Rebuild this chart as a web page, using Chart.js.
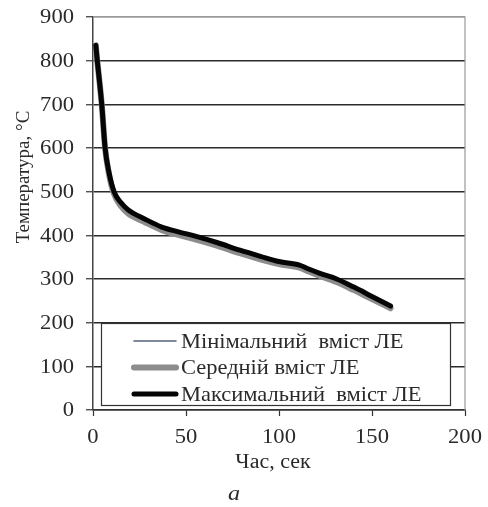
<!DOCTYPE html>
<html>
<head>
<meta charset="utf-8">
<script src="https://cdn.jsdelivr.net/npm/chart.js@4/dist/chart.umd.min.js"></script>
<style>
  html, body { margin: 0; padding: 0; background: #fff; }
  canvas { display: block; }
</style>
</head>
<body>
<canvas id="c" width="488" height="507"></canvas>
<script>
// Cooling curves: temperature vs time for three alloying-element contents
const timeSec = [1.5, 2.3, 4.7, 6.5, 8.5, 11.3, 15, 19, 28, 37, 46, 55, 67, 79, 90, 100, 111, 116, 122, 131, 140, 150, 160];
const tempMin = [833, 798, 698, 598, 543, 498, 472, 455, 434, 416, 405, 395, 380, 363, 349, 337, 329, 320, 310, 297, 279, 257, 236];
const tempMid = [835, 800, 700, 600, 542, 495, 467, 450, 430, 412, 401, 391, 376, 359, 345, 334, 326, 317, 307, 293, 275, 254, 233];
const tempMax = [835, 800, 700, 600, 546, 500, 475, 458, 437, 419, 408, 398, 383, 366, 352, 340, 332, 323, 313, 300, 282, 260, 238];

const seriesLabels = ['Мінімальний  вміст ЛЕ', 'Середній вміст ЛЕ', 'Максимальний  вміст ЛЕ'];
const xTicks = [0, 50, 100, 150, 200];
const yTicks = [0, 100, 200, 300, 400, 500, 600, 700, 800, 900];
const xTitle = 'Час, сек';
const yTitle = 'Температура, °С';
const panelLabel = 'a';

const SERIF = "'Liberation Serif', 'Times New Roman', serif";
const TEXT = '#2a2a2a';
const STRETCH = 1.13; // text is set slightly wide
Chart.defaults.font.family = SERIF;
Chart.defaults.color = TEXT;

const toPoints = (ys) => ys.map((y, i) => ({ x: timeSec[i], y }));

function wideText(ctx, text, x, y, sx, rot) {
  ctx.save();
  ctx.translate(x, y);
  if (rot) ctx.rotate(rot);
  ctx.scale(sx, 1);
  ctx.fillText(text, 0, 0);
  ctx.restore();
}

// Tick labels, legend box inside the plot, axis titles and panel letter
const annotations = {
  id: 'annotations',
  afterDatasetsDraw(chart) {
    const ctx = chart.ctx;
    const area = chart.chartArea;
    const xs = chart.scales.x, ys = chart.scales.y;
    ctx.save();

    // plot frame: light top/right edges
    ctx.strokeStyle = '#9a9a9a';
    ctx.lineWidth = 1.2;
    ctx.beginPath();
    ctx.moveTo(area.left, area.top);
    ctx.lineTo(area.right, area.top);
    ctx.lineTo(area.right, area.bottom);
    ctx.stroke();

    // tick labels
    ctx.fillStyle = TEXT;
    ctx.font = '20px ' + SERIF;
    ctx.textBaseline = 'middle';
    ctx.textAlign = 'right';
    ys.ticks.forEach(t => wideText(ctx, String(t.value), area.left - 19, ys.getPixelForValue(t.value) + 1, STRETCH));
    ctx.textAlign = 'center';
    xs.ticks.forEach(t => wideText(ctx, String(t.value), xs.getPixelForValue(t.value), area.bottom + 28, STRETCH));

    // legend
    const bx = 101, by = 323, bw = 349, bh = 82;
    ctx.fillStyle = '#fff';
    ctx.fillRect(bx, by, bw, bh);
    ctx.strokeStyle = '#333';
    ctx.lineWidth = 1.2;
    ctx.strokeRect(bx + 0.5, by + 0.5, bw, bh);
    const rows = [341, 367.5, 394];
    ctx.font = '21px ' + SERIF;
    ctx.textBaseline = 'middle';
    ctx.textAlign = 'left';
    chart.data.datasets.forEach((ds, i) => {
      const y = rows[i];
      ctx.strokeStyle = ds.borderColor;
      ctx.lineWidth = ds.borderWidth;
      ctx.lineCap = 'round';
      ctx.beginPath();
      ctx.moveTo(134, y);
      ctx.lineTo(176, y);
      ctx.stroke();
      ctx.fillStyle = TEXT;
      wideText(ctx, ds.label, 181, y + 1, 1.07);
    });

    // axis titles
    ctx.fillStyle = TEXT;
    ctx.font = '20px ' + SERIF;
    ctx.textAlign = 'center';
    wideText(ctx, xTitle, 273, 463, 1.1);
    ctx.font = '19px ' + SERIF;
    wideText(ctx, yTitle, 24, 177, 1.0, -Math.PI / 2);

    // panel letter
    ctx.font = 'italic 22px ' + SERIF;
    wideText(ctx, panelLabel, 234, 494, 1.1);
    ctx.restore();
  }
};

new Chart(document.getElementById('c'), {
  type: 'line',
  data: {
    datasets: [
      { label: seriesLabels[0], data: toPoints(tempMin), borderColor: '#56607e', borderWidth: 1.5, order: 3 },
      { label: seriesLabels[1], data: toPoints(tempMid), borderColor: '#8c8c8c', borderWidth: 6, order: 2 },
      { label: seriesLabels[2], data: toPoints(tempMax), borderColor: '#050505', borderWidth: 5, order: 1 }
    ]
  },
  options: {
    responsive: false,
    animation: false,
    events: [],
    layout: { padding: { top: 17, right: 23, left: 0, bottom: 0 } },
    elements: {
      point: { radius: 0 },
      line: { tension: 0.4, cubicInterpolationMode: 'monotone', borderCapStyle: 'round', borderJoinStyle: 'round' }
    },
    plugins: { legend: { display: false }, tooltip: { enabled: false } },
    scales: {
      x: {
        type: 'linear',
        min: 0, max: 200,
        afterBuildTicks: (s) => { s.ticks = xTicks.map(v => ({ value: v })); },
        afterFit: (s) => { s.height = 97; },
        grid: { drawOnChartArea: false, drawTicks: true, tickLength: 6, tickColor: '#333', tickWidth: 1.2 },
        border: { color: '#333', width: 1.5 },
        ticks: { display: false }
      },
      y: {
        min: 0, max: 900,
        afterBuildTicks: (s) => { s.ticks = yTicks.map(v => ({ value: v })); },
        afterFit: (s) => { s.width = 93; },
        grid: {
          color: (c) => (c.tick && c.tick.value === 900 ? '#9a9a9a' : '#2b2b2b'),
          lineWidth: 1.5,
          drawTicks: true, tickLength: 7, tickColor: '#333', tickWidth: 1.2
        },
        border: { color: '#444', width: 1.5 },
        ticks: { display: false }
      }
    }
  },
  plugins: [annotations]
});
</script>
</body>
</html>
